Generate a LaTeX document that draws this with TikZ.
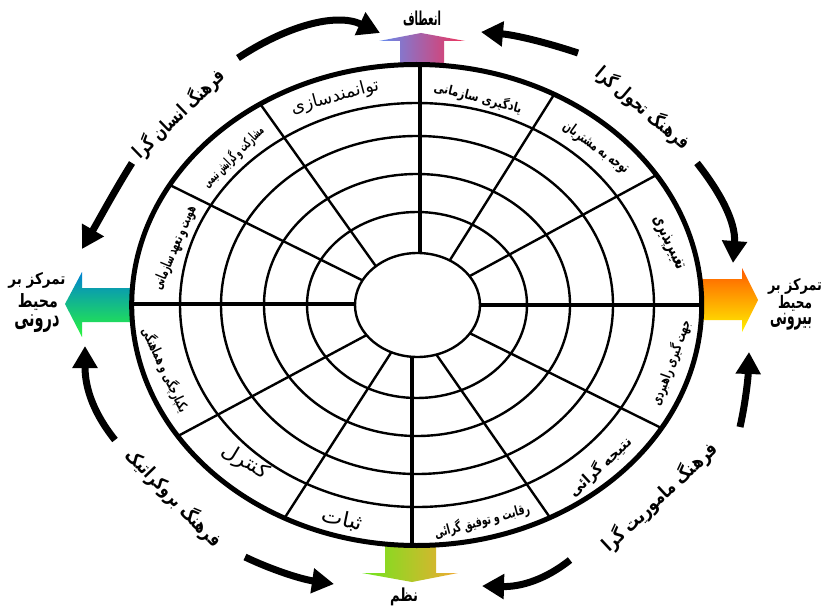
\documentclass[tikz,border=0pt]{standalone}
\usepackage{fontspec}
\usepackage{graphicx}
\usetikzlibrary{arrows.meta}
\TeXXeTstate=1
\newfontfamily\arabicfont[Script=Arabic]{DejaVu Sans}
\definecolor{flexL}{RGB}{100,140,240}
\definecolor{flexR}{RGB}{240,50,90}
\definecolor{ordL}{RGB}{110,230,30}
\definecolor{ordR}{RGB}{240,170,50}
\definecolor{inT}{RGB}{0,130,210}
\definecolor{inB}{RGB}{40,245,60}
\definecolor{exT}{RGB}{255,90,0}
\definecolor{exB}{RGB}{255,240,0}
\begin{document}
\begin{tikzpicture}[x=1pt,y=-1pt,
  ring/.style={line width=2.4pt},
  axisline/.style={line width=4.8pt},
  curvarrow/.style={line width=7pt,-{Triangle[length=22pt,width=24pt]}},
  lbl/.style={inner sep=0pt}]
\fill[white] (0,0) rectangle (825,607);
\useasboundingbox (0,0) rectangle (825,607);

% coloured block arrows
\shade[left color=flexL,right color=flexR] (400,66) -- (400,41) -- (379,41) -- (421,33) -- (465,41) -- (444,41) -- (444,66) -- cycle;
\shade[left color=ordL,right color=ordR] (385,544) -- (385,573) -- (362,573) -- (412,582) -- (458,573) -- (436,573) -- (436,544) -- cycle;
\shade[top color=inT,bottom color=inB] (133,288) -- (82,288) -- (82,272) -- (65,304) -- (82,337) -- (82,322) -- (133,322) -- cycle;
\shade[top color=exT,bottom color=exB] (700,279) -- (742,279) -- (742,268) -- (758,300) -- (742,332) -- (742,320) -- (700,320) -- cycle;

% curved arrows
\coordinate (a1s) at (238,58);  \coordinate (a1e) at (380,33);
\coordinate (a2s) at (132,163); \coordinate (a2e) at (82,249);
\coordinate (a3s) at (578,53);  \coordinate (a3e) at (481,32);
\coordinate (a4s) at (697,163); \coordinate (a4e) at (733,263);
\coordinate (a5s) at (740,427); \coordinate (a5e) at (749,352);
\coordinate (a6s) at (570,560); \coordinate (a6e) at (482,586);
\coordinate (a7s) at (245,557); \coordinate (a7e) at (334,584);
\coordinate (a8s) at (115,440); \coordinate (a8e) at (85,346);
\draw[curvarrow] (a1s) .. controls (285,27) and (335,12) .. (a1e);
\draw[curvarrow] (a2s) .. controls (115,190) and (100,218) .. (a2e);
\draw[curvarrow] (a3s) .. controls (545,42) and (515,35) .. (a3e);
\draw[curvarrow] (a4s) .. controls (720,192) and (736,222) .. (a4e);
\draw[curvarrow] (a5s) .. controls (745,405) and (748,380) .. (a5e);
\draw[curvarrow] (a6s) .. controls (545,580) and (520,587) .. (a6e);
\draw[curvarrow] (a7s) .. controls (270,569) and (300,579) .. (a7e);
\draw[curvarrow] (a8s) .. controls (95,415) and (85,390) .. (a8e);

% wheel
\begin{scope}
\clip (416.7,305) ellipse [x radius=285pt,y radius=240.5pt];
\foreach \a/\b in {110/93,153/131,196/169,237/202}
  \draw[ring] (417,305) ellipse [x radius=\a pt,y radius=\b pt];
\draw[ring,shorten <=-12pt,shorten >=-8pt] (263.3,108.3) -- (375,265);
\draw[ring,shorten <=-12pt,shorten >=-8pt] (173.3,186.7) -- (361.7,280);
\draw[ring,shorten <=-12pt,shorten >=-8pt] (551.7,98.3) -- (450,260);
\draw[ring,shorten <=-12pt,shorten >=-8pt] (653.3,176.7) -- (471.7,275);
\draw[ring,shorten <=-12pt,shorten >=-8pt] (176.7,436.7) -- (366.7,335);
\draw[ring,shorten <=-12pt,shorten >=-8pt] (283.3,520) -- (391.7,351.7);
\draw[ring,shorten <=-12pt,shorten >=-8pt] (663.3,429) -- (470,333.3);
\draw[ring,shorten <=-12pt,shorten >=-8pt] (551.7,520) -- (436.7,355);
\draw[axisline] (420,50) -- (420,270);
\draw[axisline] (412,340) -- (412,560);
\draw[axisline] (110,304) -- (370,304);
\draw[axisline] (465,305) -- (720,305);
\end{scope}
\draw[ring,fill=white] (417.5,305) ellipse [x radius=62.5pt,y radius=52pt];
\draw[line width=5pt] (416.7,305) ellipse [x radius=285pt,y radius=240.5pt];

% pole labels
\node[lbl] (flex) at (422,18) {\resizebox*{38pt}{15pt}{\arabicfont\bfseries\beginR انعطاف\endR}};
\node[lbl] (order) at (404,597) {\resizebox*{28pt}{18pt}{\arabicfont\bfseries\beginR نظم\endR}};
\node[lbl] (in1) at (37,280) {\resizebox*{57pt}{16pt}{\arabicfont\bfseries\beginR تمرکز بر\endR}};
\node[lbl] (in2) at (38,302) {\resizebox*{40pt}{17pt}{\arabicfont\bfseries\beginR محیط\endR}};
\node[lbl] (in3) at (37,324) {\resizebox*{45pt}{18pt}{\arabicfont\bfseries\beginR درونی\endR}};
\node[lbl] (ex1) at (795,286) {\resizebox*{54pt}{16pt}{\arabicfont\bfseries\beginR تمرکز بر\endR}};
\node[lbl] (ex2) at (795,303) {\resizebox*{34pt}{16pt}{\arabicfont\bfseries\beginR محیط\endR}};
\node[lbl] (ex3) at (791,322) {\resizebox*{42pt}{17pt}{\arabicfont\bfseries\beginR بیرونی\endR}};

% culture labels
\node[lbl,rotate=44] (c1) at (179,114) {\resizebox*{118pt}{22pt}{\arabicfont\bfseries\beginR فرهنگ انسان گرا\endR}};
\node[lbl,rotate=-40] (c2) at (643,108) {\resizebox*{116pt}{22pt}{\arabicfont\bfseries\beginR فرهنگ تحول گرا\endR}};
\node[lbl,rotate=43] (c3) at (660,497) {\resizebox*{150pt}{22pt}{\arabicfont\bfseries\beginR فرهنگ ماموریت گرا\endR}};
\node[lbl,rotate=-46] (c4) at (174,498) {\resizebox*{128pt}{22pt}{\arabicfont\bfseries\beginR فرهنگ بروکراتیک\endR}};

% cell labels
\node[lbl,rotate=15] (s1) at (335,97) {\resizebox*{90pt}{18pt}{\arabicfont\beginR توانمندسازی\endR}};
\node[lbl,rotate=-14] (s2) at (478,98) {\resizebox*{90pt}{15pt}{\arabicfont\bfseries\beginR یادگیری سازمانی\endR}};
\node[lbl,rotate=-36] (s3) at (596,148) {\resizebox*{78pt}{15pt}{\arabicfont\bfseries\beginR توجه به مشتریان\endR}};
\node[lbl,rotate=-65] (s4) at (668,243) {\resizebox*{58pt}{15pt}{\arabicfont\bfseries\beginR تغییرپذیری\endR}};
\node[lbl,rotate=45] (s5) at (233,157) {\resizebox*{80pt}{16pt}{\arabicfont\bfseries\beginR مشارکت و گرایش تیمی\endR}};
\node[lbl,rotate=67] (s6) at (175,248) {\resizebox*{90pt}{15pt}{\arabicfont\bfseries\beginR هویت و تعهد سازمانی\endR}};
\node[lbl,rotate=-65] (s7) at (165,370) {\resizebox*{92pt}{16pt}{\arabicfont\bfseries\beginR یکپارچگی و هماهنگی\endR}};
\node[lbl,rotate=-31] (s8) at (245,462) {\resizebox*{52pt}{20pt}{\arabicfont\beginR کنترل\endR}};
\node[lbl,rotate=-12] (s9) at (342,520) {\resizebox*{42pt}{19pt}{\arabicfont\beginR ثبات\endR}};
\node[lbl,rotate=15] (s10) at (482,521) {\resizebox*{98pt}{16pt}{\arabicfont\bfseries\beginR رقابت و توفیق گرائی\endR}};
\node[lbl,rotate=43] (s11) at (600,467) {\resizebox*{80pt}{17pt}{\arabicfont\bfseries\beginR نتیجه گرائی\endR}};
\node[lbl,rotate=70] (s12) at (671,363) {\resizebox*{90pt}{16pt}{\arabicfont\bfseries\beginR جهت گیری راهبردی\endR}};
\end{tikzpicture}
\end{document}
